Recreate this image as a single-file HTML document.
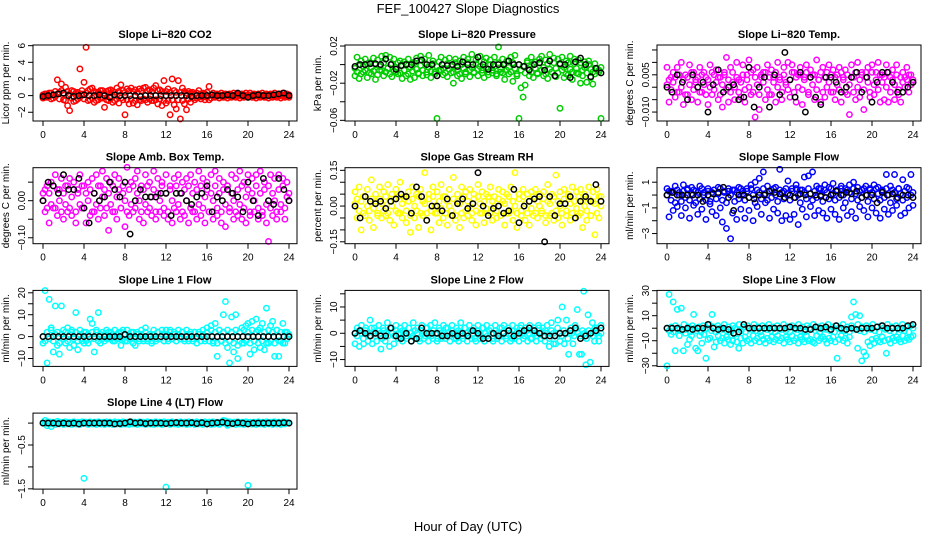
<!DOCTYPE html>
<html><head><meta charset="utf-8"><style>
html,body{margin:0;padding:0;background:#fff;}
svg{display:block;font-family:"Liberation Sans",sans-serif;}
</style></head><body>
<svg id="chart" width="936" height="540" viewBox="0 0 936 540" xmlns="http://www.w3.org/2000/svg">
<text x="468" y="13" text-anchor="middle" font-size="13">FEF_100427  Slope Diagnostics</text>
<text x="468" y="531" text-anchor="middle" font-size="13">Hour of Day (UTC)</text>
</svg>
<script>
const xTicks=[0,4,8,12,16,20,24];
const co2A=[-0.3,0.2,-0.2,0.3,-0.4,0.1,0.5,1.9,0.4,1.4,-0.5,1.0,-1.2,-1.8,0.6,-0.7,0.3,-0.4,3.2,0.2,1.6,5.8,-0.6,0.8,0.9,-0.8,0.4,-0.5,0.6,-0.3,-1.4,0.5,-0.6,0.7,-0.8,0.4,0.9,-0.9,1.3,0.6,-2.3,0.8,-1.0,0.9,-0.9,0.7,-1.1,0.8,-0.6,0.9,1.0,-0.8,0.7,-0.6,0.9,1.2,-1.0,0.7,-1.2,1.8,-0.9,0.8,-2.3,2.0,-1.1,-1.6,1.8,-2.8,0.9,-1.0,-1.7,0.5,-0.8,0.4,-0.5,0.3,0.6,-0.4,0.3,-0.5,0.4,1.1,-0.3,0.3,-0.2,0.2,-0.3,0.3,-0.2,0.2,-0.3,0.2,-0.2,0.3,-0.2,0.2,-0.3,0.2,-0.2,0.3,-0.2,0.3,-0.2,0.2,-0.3,0.2,-0.2,0.3,-0.2,0.2,-0.3,0.2,-0.2,0.3,-0.2,0.2,-0.3,0.3,-0.2,0.2,-0.2];
const co2B=[0.1,-0.2,0.2,-0.1,0.3,-0.3,-0.1,0.2,-0.4,0.6,0.3,-0.6,0.5,0.2,-0.3,0.5,-0.6,0.4,-0.2,0.6,-0.4,0.3,0.6,-0.5,-0.3,0.5,-0.6,0.4,-0.3,0.6,0.3,-0.5,0.6,-0.3,0.5,-0.6,-0.4,0.5,-0.3,-0.5,0.4,-0.5,0.6,-0.4,0.5,-0.6,0.4,-0.5,0.6,-0.4,-0.5,0.6,-0.4,0.5,-0.6,-0.5,0.6,-0.4,0.5,-0.6,0.5,-0.6,0.4,-0.5,0.6,0.4,-0.5,0.4,-0.6,0.5,0.3,-0.4,0.3,-0.3,0.2,-0.3,-0.2,0.2,-0.2,0.2,-0.2,-0.5,0.1,-0.1,0.1,-0.1,0.1,-0.1,0.1,-0.1,0.1,-0.1,0.1,-0.1,0.1,-0.1,0.1,-0.1,0.1,-0.1,0.1,-0.1,0.1,-0.1,0.1,-0.1,0.1,-0.1,0.1,-0.1,0.1,-0.1,0.1,-0.1,0.1,-0.1,0.1,-0.1,0.1,-0.1,0.1];
const co2K=[-0.1,0.0,0.1,0.2,0.3,0.0,-0.1,0.0,0.1,0.0,0.0,0.1,0.0,-0.2,0.1,0.0,0.0,0.0,0.0,-0.1,0.0,0.0,0.0,0.0,0.0,0.0,0.0,0.0,0.0,-0.1,0.0,0.0,0.0,0.1,0.0,0.0,0.1,0.0,0.3,0.0,-0.2,0.0,0.1,0.0,0.0,0.1,0.2,0.3,0.0];
const presA=[-0.012,0.008,-0.015,0.004,-0.008,0.006,-0.014,0.002,-0.010,0.007,-0.016,0.005,-0.006,0.009,-0.012,0.010,-0.004,0.008,-0.013,0.006,-0.008,-0.010,0.004,-0.015,0.003,-0.012,0.006,-0.016,0.002,-0.014,0.007,-0.010,0.009,-0.012,0.006,-0.008,0.010,-0.014,0.004,-0.010,-0.058,-0.006,0.008,-0.011,0.005,-0.013,0.007,-0.009,-0.020,0.006,-0.012,0.004,-0.015,0.008,-0.010,0.006,-0.013,0.011,-0.008,0.005,-0.012,0.009,-0.006,-0.014,0.007,-0.011,0.005,-0.009,0.008,-0.012,0.019,-0.008,0.006,-0.016,0.004,-0.010,0.008,-0.018,0.010,-0.012,-0.058,-0.025,-0.035,-0.022,0.004,-0.012,0.008,-0.014,0.003,-0.010,0.006,0.009,-0.012,0.005,-0.015,0.011,-0.008,0.007,-0.013,0.006,-0.047,0.008,-0.014,0.004,-0.011,0.009,-0.016,0.006,-0.009,0.005,-0.020,-0.012,0.003,-0.019,0.004,-0.014,-0.021,-0.010,-0.004,-0.008,-0.058];
const presB=[-0.004,-0.008,0.000,-0.010,-0.002,-0.006,0.001,-0.009,-0.003,-0.007,0.000,-0.011,-0.002,-0.006,0.002,-0.008,-0.004,-0.010,0.001,-0.007,-0.003,0.002,-0.009,-0.001,-0.006,0.001,-0.010,-0.003,-0.007,0.002,-0.005,-0.009,-0.001,-0.006,0.002,-0.011,-0.003,-0.007,0.001,-0.008,-0.002,0.003,-0.006,-0.004,-0.009,0.001,-0.005,-0.002,-0.008,0.002,-0.006,-0.010,0.000,-0.004,-0.008,0.002,-0.006,-0.003,-0.009,0.001,-0.005,-0.002,-0.009,0.003,-0.004,-0.008,0.000,-0.006,-0.002,-0.010,0.002,-0.005,-0.009,0.001,-0.006,-0.003,-0.008,0.002,-0.004,-0.010,0.000,-0.006,-0.002,-0.009,0.002,-0.005,-0.008,0.001,-0.004,-0.009,0.002,-0.006,-0.003,-0.010,0.001,-0.005,-0.008,0.002,-0.004,-0.009,0.000,-0.006,-0.003,-0.010,0.002,-0.005,-0.008,0.001,-0.004,-0.010,0.002,-0.006,-0.003,-0.009,0.000,-0.005,-0.008,0.001,-0.004,-0.006,-0.003];
const presK=[-0.002,0.000,0.000,0.001,0.001,0.000,0.006,0.000,-0.005,-0.001,0.000,0.000,0.004,0.005,0.000,0.000,-0.012,0.000,-0.001,0.000,-0.002,0.003,0.000,0.000,0.008,0.000,-0.005,0.000,0.000,0.000,0.004,0.000,0.000,-0.002,-0.006,0.000,0.002,-0.006,0.004,-0.012,0.001,0.000,-0.014,0.003,0.007,0.000,-0.013,-0.004,-0.009];
const tempA=[0.008,-0.006,0.004,0.006,-0.004,0.008,-0.002,0.010,-0.007,0.005,-0.003,0.009,-0.005,0.006,0.003,-0.006,0.008,-0.002,0.006,0.004,-0.007,0.009,-0.003,0.005,0.007,-0.005,0.004,-0.008,0.006,0.012,-0.006,0.008,0.002,-0.005,0.010,0.003,-0.004,0.009,-0.006,0.005,0.011,-0.003,0.007,-0.012,0.008,-0.009,0.004,0.006,-0.005,0.009,-0.003,0.007,0.004,-0.006,0.010,0.003,-0.005,0.008,0.002,0.010,-0.004,0.009,0.006,-0.006,0.005,0.008,-0.007,0.004,0.009,-0.003,0.007,0.005,-0.005,0.011,0.003,-0.006,0.008,-0.004,0.006,0.009,-0.002,0.007,-0.005,0.005,0.008,-0.006,0.004,0.007,-0.003,-0.011,0.009,0.004,-0.005,0.010,-0.004,0.006,-0.009,0.006,0.008,-0.004,0.009,-0.003,0.006,0.010,-0.006,0.005,-0.005,0.009,-0.006,0.004,0.007,-0.005,0.009,-0.003,-0.006,0.006,0.004,0.008,-0.002,0.005,0.003];
const tempB=[0.001,0.003,-0.001,0.002,0.004,-0.002,0.005,0.000,0.003,-0.003,0.004,0.001,0.006,-0.001,0.002,0.004,-0.002,0.005,0.001,-0.003,0.003,0.000,0.006,-0.001,0.002,0.004,-0.003,0.001,0.005,-0.001,0.003,-0.002,0.006,0.000,0.004,-0.002,0.002,0.005,-0.001,0.003,0.000,0.006,-0.002,0.004,0.001,-0.003,0.005,0.002,0.006,-0.001,0.004,-0.003,0.002,0.006,0.000,0.004,-0.002,0.005,0.001,-0.001,0.003,0.006,-0.002,0.004,0.000,0.005,-0.001,0.003,0.006,-0.002,0.004,0.001,0.005,-0.001,0.003,0.006,-0.002,0.004,0.000,0.002,0.005,-0.002,0.004,0.001,-0.001,0.006,0.003,-0.002,0.005,0.001,0.004,-0.002,0.006,0.000,0.003,0.005,-0.001,0.004,0.002,-0.002,0.006,0.001,0.003,-0.001,0.005,0.002,0.004,0.000,0.006,-0.002,0.003,0.001,0.005,-0.001,0.004,0.002,0.000,0.003,0.005,0.001,0.002];
const tempK=[0.0,-0.002,0.005,0.002,-0.005,0.005,0.000,0.002,-0.010,0.001,0.007,-0.002,0.000,0.001,-0.005,-0.004,0.008,-0.008,0.000,0.004,-0.008,0.005,-0.003,0.014,0.003,-0.004,0.006,-0.010,0.004,-0.004,-0.007,0.004,0.004,0.002,-0.002,0.000,0.004,0.006,-0.002,0.004,-0.006,0.002,0.006,0.006,0.002,-0.002,-0.002,0.000,0.002];
const ambA=[0.02,-0.03,0.04,-0.06,0.05,-0.02,0.07,-0.04,0.03,0.06,-0.05,0.04,-0.03,0.06,-0.04,0.05,-0.06,0.03,0.07,-0.02,0.04,-0.06,0.05,-0.04,0.06,-0.03,0.07,-0.05,0.04,0.08,-0.04,0.06,-0.08,0.05,-0.03,0.07,-0.05,0.06,-0.02,0.04,-0.07,0.09,-0.04,0.05,-0.03,0.06,0.08,-0.05,0.04,-0.06,0.07,-0.03,0.05,-0.04,0.08,-0.05,0.06,-0.03,0.05,-0.04,0.07,-0.05,0.04,-0.06,0.06,-0.03,0.07,-0.05,0.05,-0.04,0.06,-0.06,0.07,-0.03,0.05,-0.05,0.08,-0.04,0.06,-0.06,0.05,-0.03,0.07,-0.05,0.08,-0.04,0.06,-0.06,0.05,-0.07,0.04,-0.03,0.07,-0.05,0.06,-0.04,0.08,-0.05,0.05,-0.06,0.07,-0.04,0.06,-0.03,0.07,-0.05,0.08,-0.04,0.05,-0.06,-0.11,0.07,-0.04,0.06,-0.05,0.07,-0.03,0.06,-0.05,0.05,0.00];
const ambB=[0.00,0.03,-0.02,0.02,-0.01,0.04,-0.02,0.03,0.00,-0.03,0.02,-0.01,0.04,-0.02,0.01,0.03,-0.03,0.02,-0.01,0.04,-0.02,0.02,0.00,0.03,-0.03,0.02,-0.01,0.04,-0.02,0.01,0.03,-0.02,0.02,-0.01,0.04,-0.03,0.01,0.03,-0.02,0.02,0.00,-0.03,0.03,-0.01,0.04,-0.02,0.02,0.00,-0.03,0.03,-0.01,0.04,-0.02,0.01,0.03,-0.03,0.02,0.00,0.04,-0.02,0.02,-0.03,0.03,0.00,-0.02,0.04,-0.01,0.02,-0.03,0.03,0.00,0.04,-0.02,0.02,-0.03,0.03,-0.01,0.04,-0.02,0.01,0.03,-0.03,0.02,0.00,0.04,-0.02,0.02,-0.03,0.03,-0.01,0.04,-0.02,0.02,0.00,-0.03,0.03,-0.01,0.04,-0.02,0.01,0.03,-0.03,0.02,0.00,0.04,-0.02,0.02,-0.03,0.03,-0.01,0.04,-0.02,0.02,0.00,-0.03,0.03,-0.01,0.04,-0.02,0.01,0.02];
const ambK=[0.00,0.05,0.04,0.02,0.07,0.03,0.03,0.06,-0.02,-0.06,0.02,0.00,0.01,0.05,0.03,0.01,0.05,-0.09,0.00,0.03,0.01,0.01,0.01,0.02,0.02,-0.04,0.02,0.02,0.00,-0.01,0.01,0.02,0.04,-0.03,0.01,0.00,0.03,0.02,0.01,-0.03,0.05,0.00,-0.04,0.06,0.00,-0.01,0.06,0.03,0.00];
const rhA=[0.06,-0.05,0.08,-0.10,0.04,-0.04,0.07,-0.06,0.11,-0.09,0.05,-0.03,0.08,-0.05,0.06,-0.04,0.09,-0.06,0.05,-0.08,0.07,-0.03,0.10,-0.05,0.04,-0.07,0.06,-0.11,0.08,-0.05,0.05,-0.09,0.07,-0.04,0.14,-0.06,0.05,-0.10,0.08,-0.03,0.06,-0.07,0.09,-0.05,0.04,-0.08,0.07,-0.04,0.12,-0.06,0.05,-0.09,0.08,-0.05,0.06,-0.04,0.07,-0.06,0.05,-0.08,0.09,-0.03,0.06,-0.07,0.05,-0.04,0.08,-0.06,0.04,-0.05,0.07,-0.04,0.06,-0.08,0.05,-0.03,0.08,-0.06,0.14,-0.09,0.05,-0.04,0.07,-0.06,0.05,-0.08,0.06,-0.04,0.07,-0.05,0.05,-0.03,0.06,-0.07,0.09,-0.04,0.05,-0.06,0.13,-0.05,0.06,-0.08,0.07,-0.04,0.05,-0.06,0.08,-0.05,0.06,-0.04,0.07,-0.09,0.05,-0.06,0.08,-0.04,0.06,-0.12,0.07,-0.05,0.04];
const rhB=[0.01,0.03,-0.02,0.02,-0.03,0.04,0.00,-0.02,0.03,-0.01,0.02,-0.04,0.03,0.01,-0.02,0.04,-0.03,0.02,0.00,0.03,-0.02,0.04,-0.03,0.01,0.03,-0.02,0.02,-0.04,0.03,0.00,-0.02,0.04,-0.03,0.02,0.01,-0.03,0.03,-0.02,0.04,0.00,-0.03,0.02,-0.01,0.04,-0.03,0.02,0.00,-0.02,0.03,-0.04,0.02,0.01,-0.03,0.04,-0.02,0.02,0.00,-0.03,0.03,-0.02,0.04,0.01,-0.03,0.02,-0.01,0.04,-0.03,0.02,0.00,-0.02,0.03,-0.04,0.02,0.01,-0.03,0.04,-0.02,0.02,0.00,-0.03,0.03,-0.02,0.04,0.01,-0.03,0.02,-0.01,0.04,-0.03,0.02,0.00,-0.02,0.03,-0.04,0.02,0.01,-0.03,0.04,-0.02,0.02,0.00,-0.03,0.03,-0.02,0.04,0.01,-0.03,0.02,-0.01,0.04,-0.03,0.02,0.00,-0.02,0.03,-0.04,0.02,0.01,-0.03,0.04,0.00];
const rhK=[0.00,-0.05,0.04,0.02,0.01,0.02,-0.01,0.02,0.03,0.05,0.04,-0.03,0.08,0.04,-0.06,0.00,0.00,-0.02,0.03,-0.04,0.01,0.03,-0.01,0.01,0.14,0.00,-0.04,-0.01,0.00,-0.03,-0.02,0.07,-0.07,0.00,0.02,0.03,0.04,-0.15,0.04,-0.04,0.01,0.01,0.04,-0.05,0.02,0.04,0.02,0.09,0.02];
const flowA=[0.5,-1.7,0.3,-1.2,0.7,-0.9,0.2,-1.6,0.8,-1.0,0.4,-1.8,0.6,-0.8,0.3,-1.5,0.7,-1.1,0.2,-1.9,0.5,-0.7,-1.3,0.4,-1.6,0.6,-1.0,-2.1,0.3,-2.6,0.5,-3.4,-1.4,0.4,-1.9,0.6,-1.1,0.3,-1.8,0.5,-1.2,0.8,-2.0,1.0,-0.9,1.3,-1.5,1.8,-0.6,0.7,-1.8,0.4,-1.1,0.6,-1.4,2.0,-2.0,0.3,-1.6,1.1,-1.9,0.5,-1.5,0.8,-2.3,0.4,-1.1,1.4,-1.7,1.5,-0.9,1.8,-1.6,0.7,-1.2,0.5,-1.4,0.8,-1.8,0.6,-1.1,0.9,-1.5,0.4,-1.9,0.7,-1.0,0.5,-1.6,0.8,-1.3,1.0,-1.8,0.6,-0.9,0.4,-1.2,0.7,-1.7,0.5,-1.0,0.8,-1.4,0.6,-1.8,0.4,-1.1,1.6,-1.5,0.7,-1.2,1.6,-0.8,0.5,-1.6,1.2,-1.4,0.6,-1.0,1.6,-0.8];
const flowB=[0.0,0.3,-0.4,0.2,-0.6,0.4,0.0,-0.5,0.3,-0.2,0.5,-0.4,0.1,0.4,-0.6,0.2,-0.3,0.5,0.0,-0.4,0.3,-0.5,0.2,0.4,-0.3,0.1,0.5,-0.4,0.2,-0.6,0.3,0.0,0.4,-0.5,0.2,-0.3,0.5,0.1,-0.4,0.3,-0.2,0.5,0.0,-0.6,0.4,0.2,-0.3,0.5,0.1,-0.4,0.3,-0.2,0.5,0.0,-0.5,0.4,0.2,-0.3,0.5,0.1,-0.4,0.3,-0.2,0.5,0.0,-0.6,0.4,0.2,-0.3,0.5,0.1,-0.4,0.3,-0.2,0.5,0.0,-0.5,0.4,0.2,-0.3,0.5,0.1,-0.4,0.3,-0.2,0.5,0.0,-0.6,0.4,0.2,-0.3,0.5,0.1,-0.4,0.3,-0.2,0.5,0.0,-0.5,0.4,0.2,-0.3,0.5,0.1,-0.4,0.3,-0.2,0.5,0.0,-0.6,0.4,0.2,-0.3,0.5,0.1,-0.4,0.3,-0.2,0.5,0.0,0.2];
const flowK=[0.0,0.2,0.0,0.0,0.0,0.0,0.0,-0.5,0.0,0.1,0.2,0.6,-0.2,-1.2,0.0,0.0,-0.2,-0.3,0.0,0.0,0.3,0.2,0.1,-0.2,0.0,-0.2,0.1,0.0,0.1,0.0,-0.1,-0.2,0.0,0.3,0.0,0.2,0.1,0.3,-0.2,0.0,0.0,-0.6,0.2,0.0,0.1,-0.2,0.0,0.0,-0.2];
const l1A=[-3,21,-12,17,4,-7,14,-4,-8,14,3,-3,4,-5,2,-4,11,-6,3,-2,-3,2,-3,8,6,-7,3,11,-3,2,-2,3,-1,2,-2,3,-1,2,-4,3,-2,3,-1,2,-3,-4,2,-1,3,-2,4,-2,1,-3,3,-2,2,-1,3,-2,3,-2,3,-1,2,-2,3,-1,2,-2,3,-1,2,-2,2,-3,2,-2,3,-1,4,-2,5,-3,6,-9,3,-2,10,16,-5,-12,9,-7,10,-10,-2,4,-3,5,6,-8,7,-6,8,3,-5,6,-6,13,-3,5,7,-9,3,-9,-2,6,-3,2,1];
const l1B=[0,-2,2,-1,3,-2,1,2,-3,1,-1,2,-2,1,3,-1,2,-2,1,-1,2,-2,1,-1,2,-1,2,-2,1,-1,1,-1,2,-1,1,-2,1,-1,2,-1,1,-2,1,-1,2,-1,1,-2,1,-1,2,-1,1,-2,1,-1,2,-1,1,-2,1,-1,2,-1,1,-2,1,-1,2,-1,1,-2,1,-1,2,-1,1,-2,1,-2,2,-2,3,-2,2,-3,3,-2,2,-3,3,-2,2,-3,3,-4,2,-3,3,-2,2,-3,3,-2,2,-3,4,-2,2,-3,3,-2,2,-3,3,-2,2,-3,2,-1,0];
const l1K=[0,0,0,0,0,0,0,0,0,0,0,0,0,0,0,0,1,0,0,0,0,0,0,0,0,0,0,0,0,0,0,0,0,0,0,0,0,0,0,0,0,0,0,0,0,0,0,0,0];
const l2A=[-4,2,-5,3,-4,2,-3,5,-4,2,-3,3,-6,2,-3,4,-5,2,-4,3,-2,2,-3,3,-2,2,-3,4,-2,2,-3,3,-2,2,-3,3,-2,4,-3,2,-2,3,-2,2,-3,3,-2,2,-3,4,-2,2,-3,3,-2,2,-3,3,-2,2,-3,3,-2,2,-3,3,-2,2,-3,3,-2,2,-3,3,-2,2,-3,3,-2,2,-3,3,-2,2,-3,3,-2,2,-3,3,-5,4,-4,-4,5,-3,10,-4,5,-8,2,-4,3,9,-8,-8,16,-12,7,-11,4,-3,2,-3,3];
const l2B=[0,-1,1,0,-2,1,0,-1,2,0,-1,1,0,-2,1,0,-1,2,0,-1,1,0,-2,1,0,-1,2,0,-1,1,0,-2,1,0,-1,2,0,-1,1,0,-2,1,0,-1,2,0,-1,1,0,-2,1,0,-1,2,0,-1,1,0,-2,1,0,-1,2,0,-1,1,0,-2,1,0,-1,2,0,-1,1,0,-2,1,0,-1,2,0,-1,1,0,-2,1,0,-1,2,0,-1,1,0,-2,1,0,-1,2,0,-1,1,0,-2,1,0,-1,2,0,-1,1,0,-2,1,0,-1,2,0,-1,0];
const l2K=[0,1,0,-1,0,-1,-1,2,-1,-2,0,-3,-2,2,0,0,0,-1,-1,0,-1,0,-1,1,0,-2,-2,0,-1,0,1,-1,0,1,2,1,0,-1,-1,-1,0,0,1,2,-2,-1,0,1,2];
const l3A=[-30,27,-5,21,-18,15,-6,16,-18,-4,-13,-9,-6,11,-16,-18,-6,-12,-5,-24,-9,-8,11,-15,-11,-6,-10,-8,-12,-7,-9,-13,-10,-5,-11,-16,-8,-12,-7,-10,-9,-12,-6,-10,-8,-11,-6,-9,-12,-8,-10,-7,-11,-9,-6,-10,-8,-12,-7,-9,-11,-6,-10,-8,-12,-7,-9,-11,-6,-10,-9,-11,-12,-6,-10,-8,-7,-9,-12,-8,-10,-7,-11,-24,-9,-6,-10,-8,-12,-7,9,21,11,-16,10,-26,-19,-22,-11,-14,-9,-12,-8,-10,-11,-7,-10,-20,-9,-12,-8,-10,-7,-9,-11,-6,-10,-8,-9,-7,-6];
const l3B=[0,-2,1,-3,2,-1,0,-2,3,-1,1,-3,2,0,-2,1,-3,2,-1,0,3,-2,1,-3,2,0,-1,3,-2,1,-3,2,0,-1,3,-2,1,-3,2,0,-1,3,-2,1,-3,2,0,-1,3,-2,1,-3,2,0,-1,3,-2,1,-3,2,0,-1,3,-2,1,-3,2,0,-1,3,-2,1,-3,2,0,-1,3,-2,1,-3,2,0,-1,3,-2,1,-3,2,0,-1,3,-2,1,-3,2,0,-1,3,-2,1,-3,2,0,-1,3,-2,1,-3,2,0,-1,3,-2,1,-3,2,0];
const l3K=[0,0,0,-1,0,-1,0,0,3,0,-1,0,-1,-4,-3,3,0,0,0,0,0,0,0,0,1,0,0,-1,-1,1,0,1,-1,2,0,-1,0,-1,0,0,0,1,2,0,0,0,0,2,3];
const l4A=[0.00,0.06,-0.06,0.03,-0.08,0.02,-0.03,0.04,-0.02,0.02,-0.03,0.03,-0.02,0.02,-0.03,0.03,-0.02,0.02,-0.03,0.03,-1.26,0.02,-0.03,0.03,-0.02,0.02,-0.03,0.03,-0.02,0.02,-0.03,0.03,-0.02,0.02,-0.03,0.03,-0.02,0.02,-0.03,0.03,-0.02,0.02,-0.03,0.03,-0.02,0.02,-0.03,0.03,-0.02,0.02,-0.03,0.03,-0.02,0.02,-0.03,0.03,-0.02,0.02,-0.03,0.03,-1.46,0.02,-0.03,0.03,-0.02,0.02,-0.03,0.03,-0.02,0.02,-0.03,0.03,-0.02,0.02,-0.03,0.03,-0.02,0.02,-0.03,0.03,-0.02,0.02,-0.03,0.03,-0.02,0.02,-0.03,0.03,0.06,0.05,-0.05,0.03,-0.02,0.02,-0.03,0.03,-0.02,0.02,-0.03,0.03,-1.42,0.02,-0.02,0.02,-0.03,0.03,-0.02,0.02,-0.03,0.03,-0.02,0.02,-0.03,0.03,-0.02,0.02,-0.03,0.03,-0.02,0.02,0.00];
const l4B=[0.01,-0.01,0.02,0.00,-0.02,0.01,0.00,-0.01,0.02,0.00,-0.02,0.01,0.00,-0.01,0.02,0.00,-0.02,0.01,0.00,-0.01,0.02,0.00,-0.02,0.01,0.00,-0.01,0.02,0.00,-0.02,0.01,0.00,-0.01,0.02,0.00,-0.02,0.01,0.00,-0.01,0.02,0.00,-0.02,0.01,0.00,-0.01,0.02,0.00,-0.02,0.01,0.00,-0.01,0.02,0.00,-0.02,0.01,0.00,-0.01,0.02,0.00,-0.02,0.01,0.00,-0.01,0.02,0.00,-0.02,0.01,0.00,-0.01,0.02,0.00,-0.02,0.01,0.00,-0.01,0.02,0.00,-0.02,0.01,0.00,-0.01,0.02,0.00,-0.02,0.01,0.00,-0.01,0.02,0.00,-0.02,0.01,0.00,-0.01,0.02,0.00,-0.02,0.01,0.00,-0.01,0.02,0.00,-0.02,0.01,0.00,-0.01,0.02,0.00,-0.02,0.01,0.00,-0.01,0.02,0.00,-0.02,0.01,0.00,-0.01,0.02,0.00,0.00];
const l4K=[0.00,0.00,0.00,-0.01,0.00,-0.01,0.00,-0.02,0.00,0.00,0.00,0.00,0.00,0.00,-0.02,-0.01,0.00,0.03,0.00,0.01,-0.01,0.00,0.00,0.00,-0.01,0.00,0.01,0.00,0.00,0.01,-0.01,0.01,-0.02,0.00,0.01,0.02,0.00,-0.01,0.01,0.00,-0.02,0.00,0.00,0.00,0.00,0.00,0.00,0.01,0.00];

const titles=["Slope Li\u2212820 CO2","Slope Li\u2212820 Pressure","Slope Li\u2212820 Temp.","Slope Amb. Box Temp.","Slope Gas Stream RH","Slope Sample Flow","Slope Line 1 Flow","Slope Line 2 Flow","Slope Line 3 Flow","Slope Line 4 (LT) Flow"];
const yTitles=["Licor ppm per min.","kPa per min.","degrees C per min.","degrees C per min.","percent per min.","ml/min per min.","ml/min per min.","ml/min per min.","ml/min per min.","ml/min per min."];
const yTicks=[[-2,0,2,4,6],[-0.06,-0.04,-0.02,0,0.02],[-0.01,-0.005,0,0.005,0.01,0.015],[-0.1,-0.05,0,0.05],[-0.15,-0.1,-0.05,0,0.05,0.1,0.15],[-3,-2,-1,0,1],[-10,-5,0,5,10,15,20],[-10,-5,0,5,10,15],[-30,-20,-10,0,10,20,30],[-1.5,-1,-0.5,0]];
const yLabels=[["\u22122","0","2","4","6"],["\u22120.06","","\u22120.02","","0.02"],["\u22120.010","","","0.005","",""],["\u22120.10","","0.00",""],["\u22120.15","","","0.00","","","0.15"],["\u22123","","\u22121","","1"],["\u221210","","0","","10","","20"],["\u221210","","0","","10",""],["\u221230","","\u221210","","10","","30"],["\u22121.5","","\u22120.5",""]];
const yDomains=[[-3.05,6.08],[-0.0607,0.0211],[-0.0136,0.017],[-0.116,0.089],[-0.158,0.161],[-3.79,2.13],[-13.6,21.1],[-12.6,16.3],[-30.5,30.2],[-1.506,0.228]];
const colors=["#ff0000","#00cd00","#ff00ff","#ff00ff","#ffff00","#0000ff","#00ffff","#00ffff","#00ffff","#00ffff"];
const seriesA=[co2A,presA,tempA,ambA,rhA,flowA,l1A,l2A,l3A,l4A];
const seriesB=[co2B,presB,tempB,ambB,rhB,flowB,l1B,l2B,l3B,l4B];
const seriesK=[co2K,presK,tempK,ambK,rhK,flowK,l1K,l2K,l3K,l4K];
const slugs=["co2","pressure","li820-temp","amb-box-temp","gas-rh","sample-flow","line1-flow","line2-flow","line3-flow","line4-flow"];

const NS="http://www.w3.org/2000/svg";
const svg=document.getElementById('chart');
function mk(tag,attrs,parent){const e=document.createElementNS(NS,tag);for(const k in attrs)e.setAttribute(k,attrs[k]);parent.appendChild(e);return e;}

for(let p=0;p<10;p++){
  const c=p%3, r=Math.floor(p/3);
  const bx=33+c*312, by=45+r*122.7, bw=264, bh=76;
  const xs=h=>bx+10+h/24*246;
  const [y0,y1]=yDomains[p];
  const ys=v=>by+bh-(v-y0)/(y1-y0)*bh;
  const g=mk('g',{},svg);
  
  
  const t=mk('text',{x:bx+bw/2,y:by-7,'text-anchor':'middle','font-size':'11','font-weight':'bold'},g);
  
  
  t.textContent=titles[p];
  const yt=mk('text',{x:0,y:0,'text-anchor':'middle','font-size':'10',transform:`translate(${bx-24},${by+bh/2}) rotate(-90)`},g);
  
  
  yt.textContent=yTitles[p];
  xTicks.forEach(h=>{
    const l=mk('line',{x1:xs(h),x2:xs(h),y1:by+bh,y2:by+bh+5,stroke:'#000','stroke-width':1},g);
    
    
    const tx=mk('text',{x:xs(h),y:by+bh+17,'text-anchor':'middle','font-size':'10'},g);
    
    
    tx.textContent=String(h);
  });
  yTicks[p].forEach((v,i)=>{
    const l=mk('line',{x1:bx-5,x2:bx,y1:ys(v),y2:ys(v),stroke:'#000','stroke-width':1},g);
    
    
    if(yLabels[p][i]){
      const tx=mk('text',{x:0,y:0,'text-anchor':'middle','font-size':'10',transform:`translate(${bx-8},${ys(v)}) rotate(-90)`},g);
      
      
      tx.textContent=yLabels[p][i];
    }
  });
  const pts=mk('g',{},g);
  
  
  [seriesA[p],seriesB[p]].forEach(arr=>{
    arr.forEach((v,i)=>{
      const h=i*24/(arr.length-1);
      const ci=mk('circle',{cx:xs(h),cy:ys(v),r:2.7,fill:'none',stroke:colors[p],'stroke-width':1.5},pts);
      
      
    });
  });
  seriesK[p].forEach((v,i)=>{
    const h=i*24/(seriesK[p].length-1);
    const ci=mk('circle',{cx:xs(h),cy:ys(v),r:2.7,fill:'none',stroke:'#000','stroke-width':1.5},pts);
    
    
  });
  const box=mk('rect',{x:bx,y:by,width:bw,height:bh,fill:'none',stroke:'#000','stroke-width':1},g);
  
  
}
</script>
</body></html>
